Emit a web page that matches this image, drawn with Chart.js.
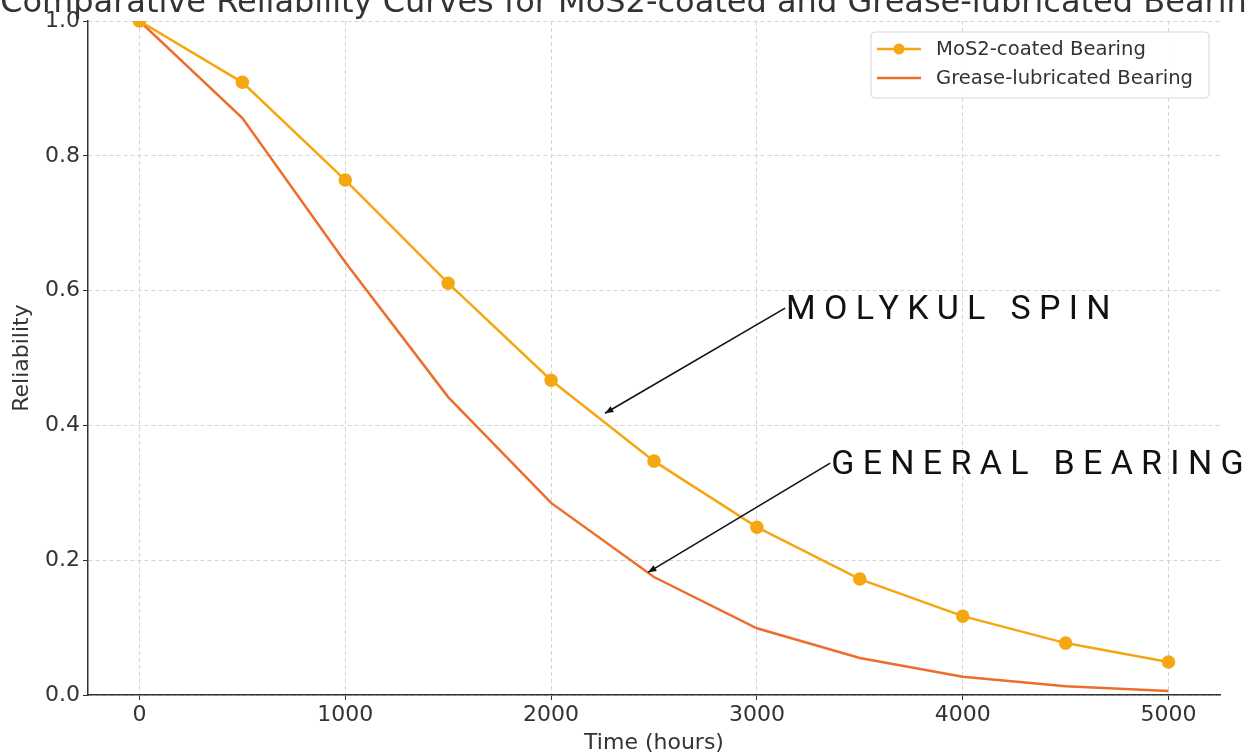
<!DOCTYPE html>
<html>
<head>
<meta charset="utf-8">
<script src="https://cdn.jsdelivr.net/npm/chart.js@4"></script>
<style>
  html, body { margin: 0; padding: 0; background: #fff; }
  #wrap { width: 1245px; height: 756px; position: relative; }
</style>
</head>
<body>
<div id="wrap"><canvas id="reliabilityChart"></canvas></div>
<script>
// data
var hours = [0, 500, 1000, 1500, 2000, 2500, 3000, 3500, 4000, 4500, 5000];
var mos2Reliability = [1.0, 0.909, 0.764, 0.611, 0.467, 0.347, 0.249, 0.172, 0.117, 0.077, 0.049];
var greaseReliability = [1.0, 0.856, 0.642, 0.442, 0.285, 0.175, 0.099, 0.055, 0.027, 0.013, 0.006];
var xTicks = [0, 1000, 2000, 3000, 4000, 5000];
var yTicks = [0.0, 0.2, 0.4, 0.6, 0.8, 1.0];
var seriesNames = ['MoS2-coated Bearing', 'Grease-lubricated Bearing'];
var titleText = 'Comparative Reliability Curves for MoS2-coated and Grease-lubricated Bearings';

// hand drawn notes: label, label start (x, y), arrow tip (x, y) in data units
var notes = [
    { text: 'MOLYKUL SPIN', from: [3137, 0.574], to: [2262, 0.418] },
    { text: 'GENERAL BEARING', from: [3356, 0.344], to: [2471, 0.182] }
];

const mosColor = '#f5a711';
const greaseColor = '#ee6d2b';
const tickFont = { family: 'DejaVu Sans', size: 22 };

function toPoints(ys) {
    return hours.map((h, i) => ({ x: h, y: ys[i] }));
}

// title sits partly above the canvas, so draw it by hand
const titlePlugin = {
    id: 'cutTitle',
    afterDraw(chart) {
        const ctx = chart.ctx;
        const area = chart.chartArea;
        ctx.save();
        ctx.font = '32px "DejaVu Sans"';
        ctx.fillStyle = '#333';
        ctx.textAlign = 'center';
        ctx.textBaseline = 'alphabetic';
        ctx.fillText(titleText, (area.left + area.right) / 2 - 12, 12);
        ctx.restore();
    }
};

// legend box in the upper right corner, like matplotlib's
const legendPlugin = {
    id: 'boxLegend',
    afterDraw(chart) {
        const ctx = chart.ctx;
        const x0 = 871, y0 = 32, w = 338, h = 66;
        ctx.save();
        ctx.fillStyle = 'rgba(255,255,255,0.85)';
        ctx.strokeStyle = '#d6d6d6';
        ctx.lineWidth = 1;
        ctx.beginPath();
        ctx.roundRect(x0, y0, w, h, 4);
        ctx.fill();
        ctx.stroke();
        ctx.font = '19.6px "DejaVu Sans"';
        ctx.textBaseline = 'middle';
        ctx.fillStyle = '#333';
        chart.data.datasets.forEach((ds, i) => {
            const yy = y0 + 17 + i * 29;
            ctx.strokeStyle = ds.borderColor;
            ctx.lineWidth = 2.5;
            ctx.beginPath();
            ctx.moveTo(x0 + 6, yy);
            ctx.lineTo(x0 + 50, yy);
            ctx.stroke();
            if (ds.pointRadius > 0) {
                ctx.fillStyle = ds.pointBackgroundColor;
                ctx.beginPath();
                ctx.arc(x0 + 28, yy, 5.5, 0, Math.PI * 2);
                ctx.fill();
            }
            ctx.fillStyle = '#333';
            ctx.fillText(ds.label, x0 + 65, yy + 1);
        });
        ctx.restore();
    }
};

// arrows with spaced capital labels
const notePlugin = {
    id: 'notes',
    afterDatasetsDraw(chart) {
        const ctx = chart.ctx;
        const xs = chart.scales.x, ys = chart.scales.y;
        ctx.save();
        notes.forEach(n => {
            const fx = xs.getPixelForValue(n.from[0]), fy = ys.getPixelForValue(n.from[1]);
            const tx = xs.getPixelForValue(n.to[0]), ty = ys.getPixelForValue(n.to[1]);
            ctx.strokeStyle = '#111';
            ctx.fillStyle = '#111';
            ctx.lineWidth = 1.6;
            ctx.beginPath();
            ctx.moveTo(fx, fy);
            ctx.lineTo(tx, ty);
            ctx.stroke();
            const ang = Math.atan2(ty - fy, tx - fx);
            const len = 9, spread = 0.38;
            ctx.beginPath();
            ctx.moveTo(tx, ty);
            ctx.lineTo(tx - len * Math.cos(ang - spread), ty - len * Math.sin(ang - spread));
            ctx.lineTo(tx - len * Math.cos(ang + spread), ty - len * Math.sin(ang + spread));
            ctx.closePath();
            ctx.fill();
            ctx.font = '34px "Roboto"';
            ctx.letterSpacing = '8.3px';
            ctx.textAlign = 'left';
            ctx.textBaseline = 'middle';
            ctx.fillText(n.text, fx + 1, fy + 2);
            ctx.letterSpacing = '0px';
        });
        ctx.restore();
    }
};

new Chart(document.getElementById('reliabilityChart').getContext('2d'), {
    type: 'line',
    data: {
        datasets: [{
            label: seriesNames[0],
            data: toPoints(mos2Reliability),
            borderColor: mosColor,
            backgroundColor: mosColor,
            pointBackgroundColor: mosColor,
            pointBorderColor: mosColor,
            pointRadius: 5.5,
            borderWidth: 2.5,
            tension: 0,
            order: 1
        }, {
            label: seriesNames[1],
            data: toPoints(greaseReliability),
            borderColor: greaseColor,
            backgroundColor: greaseColor,
            pointRadius: 0,
            borderWidth: 2.5,
            tension: 0,
            order: 2
        }]
    },
    options: {
        responsive: true,
        maintainAspectRatio: false,
        animation: false,
        layout: { padding: { top: 21, right: 25, left: 0, bottom: 0 } },
        plugins: {
            legend: { display: false },
            title: { display: false },
            tooltip: { enabled: false }
        },
        scales: {
            x: {
                type: 'linear',
                min: -250,
                max: 5250,
                afterBuildTicks: function (scale) {
                    scale.ticks = xTicks.map(v => ({ value: v }));
                },
                afterFit: function (scale) { scale.height = 61; },
                ticks: {
                    font: tickFont, color: '#333', padding: 2, maxRotation: 0,
                    callback: function (v) { return String(v); }
                },
                grid: { color: '#d4d4d4', lineWidth: 1, tickLength: 5, tickColor: '#333', tickBorderDash: [] },
                border: { display: true, color: '#333', width: 1.5, dash: [4, 3] },
                title: { display: true, text: 'Time (hours)', font: tickFont, color: '#333', padding: { top: 0, bottom: 0 } }
            },
            y: {
                min: 0,
                max: 1,
                afterBuildTicks: function (scale) {
                    scale.ticks = yTicks.map(v => ({ value: v }));
                },
                afterFit: function (scale) { scale.width = 88; },
                ticks: {
                    font: tickFont, color: '#333', padding: 3,
                    callback: function (v) { return v.toFixed(1); }
                },
                grid: { color: '#d4d4d4', lineWidth: 1, tickLength: 5, tickColor: '#333', tickBorderDash: [] },
                border: { display: true, color: '#333', width: 1.5, dash: [4, 3] },
                title: { display: true, text: 'Reliability', font: tickFont, color: '#333', padding: { top: 9, bottom: 0 } }
            }
        }
    },
    plugins: [titlePlugin, legendPlugin, notePlugin]
});
</script>
</body>
</html>
